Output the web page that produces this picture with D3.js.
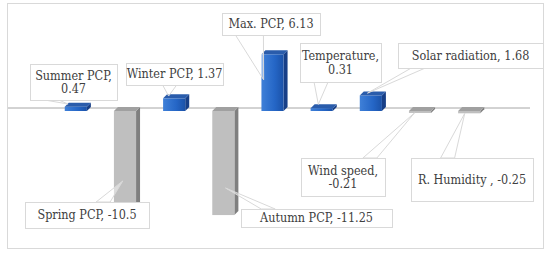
<!DOCTYPE html>
<html>
<head>
<meta charset="utf-8">
<script src="https://cdn.jsdelivr.net/npm/d3@7"></script>
<style>
body { margin: 0; background: #fff; }
</style>
</head>
<body>
<svg id="chart"></svg>
<script>
// data
var names = ["Summer PCP", "Spring PCP", "Winter PCP", "Autumn PCP", "Max. PCP", "Temperature", "Solar radiation", "Wind speed", "R. Humidity "];
var values = [0.47, -10.5, 1.37, -11.25, 6.13, 0.31, 1.68, -0.21, -0.25];
var valueLabels = ["0.47", "-10.5", "1.37", "-11.25", "6.13", "0.31", "1.68", "-0.21", "-0.25"];

// callout boxes (layout only): x, y, w, h, two lines?, wedge base fraction
var boxes = [
	[30, 64, 87, 36, true, 0.25],
	[25, 202, 124, 26, false, 0.63],
	[126, 63, 97, 22, false, 0.45],
	[241, 209, 151, 18, false, 0.18],
	[222, 13, 98, 22, false, 0.28],
	[300, 43, 81, 39, true, 0.26],
	[398, 43, 145, 25, false, 0.14],
	[301, 158, 84, 38, true, 0.82],
	[411, 158, 122, 43, false, 0.3]
];
// where the wedge points on each bar: fraction of width, fraction of value
var tipA = [0.15, 0.4, 0.25, 0.6, 0.1, 0.35, 0.35, 0.25, 0.3];
var tipB = [1.6, 0.72, 1.18, 0.74, 0.55, 2.3, 1.15, 1, 1];

var W = 550, H = 255, D = 4;
var FONT = "'DejaVu Serif Condensed', 'DejaVu Serif', serif";

var svg = d3.select("#chart").attr("width", W).attr("height", H);

var defs = svg.append("defs");
var g1 = defs.append("linearGradient").attr("id", "blueFront");
g1.append("stop").attr("offset", "0%").attr("stop-color", "#3f80d8");
g1.append("stop").attr("offset", "60%").attr("stop-color", "#2566c6");
g1.append("stop").attr("offset", "100%").attr("stop-color", "#1b52a8");

var x = d3.scaleBand().domain(names).range([50, 495]).paddingInner(0.55).paddingOuter(0.3);
var y = d3.scaleLinear().domain([-12, 7]).range([222, 46.25]);
var bw = x.bandwidth();
var y0 = y(0);

// outer frame
svg.append("rect").attr("x", 7.5).attr("y", 3.5).attr("width", 536).attr("height", 245)
	.attr("fill", "none").attr("stroke", "#d9d9d9");

// zero line on the back wall
svg.append("line").attr("x1", 8).attr("x2", 530).attr("y1", y0 - 3).attr("y2", y0 - 3)
	.attr("stroke", "#a6a6a6").attr("stroke-width", 1);

var data = names.map(function(n, i) { return { name: n, value: values[i], i: i }; });

var bars = svg.append("g").selectAll("g").data(data).enter().append("g");

function topY(d) { return Math.min(y(d.value), y0); }
function botY(d) { return Math.max(y(d.value), y0); }

// side face
bars.append("path")
	.attr("d", function(d) {
		var xr = x(d.name) + bw, t = topY(d), b = botY(d);
		return "M" + xr + "," + t + "L" + (xr + D) + "," + (t - D) + "L" + (xr + D) + "," + (b - D) + "L" + xr + "," + b + "Z";
	})
	.attr("fill", function(d) { return d.value > 0 ? "#173f87" : "#7f7f7f"; });

// front face
bars.append("rect")
	.attr("x", function(d) { return x(d.name); })
	.attr("y", topY)
	.attr("width", bw)
	.attr("height", function(d) { return Math.max(1.5, botY(d) - topY(d)); })
	.attr("fill", function(d) { return d.value > 0 ? "url(#blueFront)" : "#bfbfbf"; });

// top face
bars.append("path")
	.attr("d", function(d) {
		var xl = x(d.name), t = topY(d);
		return "M" + xl + "," + t + "L" + (xl + D) + "," + (t - D) + "L" + (xl + bw + D) + "," + (t - D) + "L" + (xl + bw) + "," + t + "Z";
	})
	.attr("fill", function(d) { return d.value > 0 ? "#2a5cab" : "#a0a0a0"; });

// callouts
var call = svg.append("g").selectAll("g").data(data).enter().append("g");

call.append("path")
	.attr("d", function(d) {
		var b = boxes[d.i];
		var tx = x(d.name) + tipA[d.i] * bw, ty = y(d.value * tipB[d.i]);
		var ey = ty > b[1] + b[3] ? b[1] + b[3] : b[1];
		var bc = b[0] + b[5] * b[2];
		var hw = d.i == 4 ? 14 : 7;
		return "M" + (bc - hw) + "," + ey + "L" + tx + "," + ty + "L" + (bc + hw) + "," + ey + "Z";
	})
	.attr("fill", "#fff").attr("fill-opacity", 0.45)
	.attr("stroke", "#d9d9d9").attr("stroke-width", 1);

call.append("rect")
	.attr("x", function(d) { return boxes[d.i][0] + 0.5; })
	.attr("y", function(d) { return boxes[d.i][1] + 0.5; })
	.attr("width", function(d) { return boxes[d.i][2]; })
	.attr("height", function(d) { return boxes[d.i][3]; })
	.attr("fill", "#fff")
	.attr("stroke", "#d9d9d9");

call.each(function(d) {
	var b = boxes[d.i];
	var cx = b[0] + b[2] / 2, cy = b[1] + b[3] / 2;
	var lines = b[4] ? [d.name + ",", valueLabels[d.i]] : [d.name + ", " + valueLabels[d.i]];
	var t = d3.select(this).append("text")
		.attr("text-anchor", "middle")
		.style("font-family", FONT)
		.style("font-stretch", "condensed")
		.style("font-size", "12.5px")
		.attr("fill", "#404040");
	lines.forEach(function(l, k) {
		t.append("tspan").attr("x", cx)
			.attr("y", cy + (k - (lines.length - 1) / 2) * 13.5)
			.attr("dy", "0.35em")
			.text(l);
	});
});
</script>
</body>
</html>
